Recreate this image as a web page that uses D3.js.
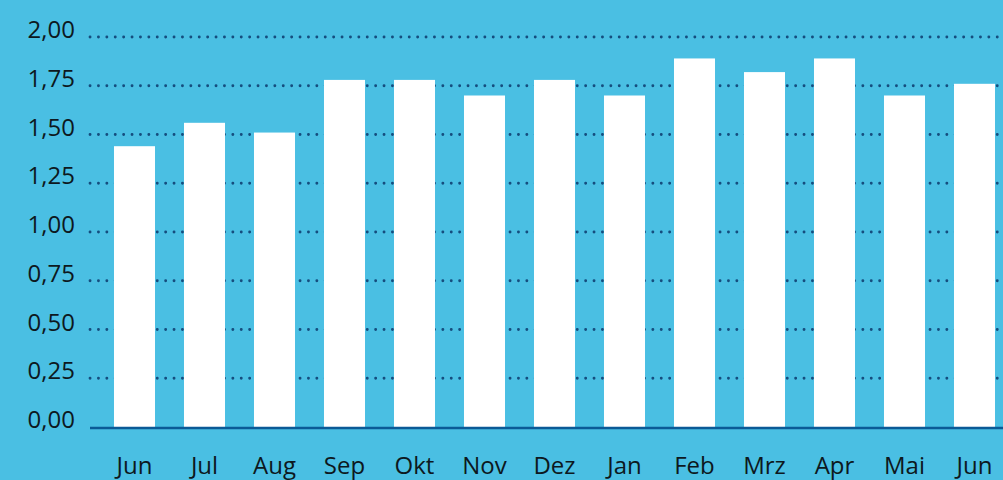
<!DOCTYPE html>
<html>
<head>
<meta charset="utf-8">
<script src="https://cdn.jsdelivr.net/npm/d3@7"></script>
<style>
  html, body { margin: 0; padding: 0; background: #4abfe3; }
  svg { display: block; }
</style>
</head>
<body>
<div id="chart"></div>
<script>
const months = ['Jun', 'Jul', 'Aug', 'Sep', 'Okt', 'Nov', 'Dez', 'Jan', 'Feb', 'Mrz', 'Apr', 'Mai', 'Jun'];
const values = [1.44, 1.56, 1.51, 1.78, 1.78, 1.70, 1.78, 1.70, 1.89, 1.82, 1.89, 1.70, 1.76];
const yTicks = [0, 0.25, 0.5, 0.75, 1, 1.25, 1.5, 1.75, 2];

const width = 1003, height = 480;

const svg = d3.select('#chart').append('svg')
    .attr('width', width)
    .attr('height', height);

svg.append('rect')
    .attr('width', width)
    .attr('height', height)
    .attr('fill', '#4abfe3');

// keys include index since 'Jun' appears twice
const x = d3.scaleBand()
    .domain(months.map((m, i) => i))
    .range([99.5, 1009.5])
    .paddingInner(0.414)
    .paddingOuter(0.207);

const y = d3.scaleLinear()
    .domain([0, 2])
    .range([427, 37]);

const fmt = d => d.toFixed(2).replace('.', ',');

// dotted grid lines
svg.append('g')
    .selectAll('line')
    .data(yTicks.filter(d => d > 0))
    .enter().append('line')
    .attr('x1', 90)
    .attr('x2', width)
    .attr('y1', d => y(d))
    .attr('y2', d => y(d))
    .attr('stroke', '#154d7e')
    .attr('stroke-width', 2.8)
    .attr('stroke-linecap', 'round')
    .attr('stroke-dasharray', '0.1 8.3');

// y tick labels
svg.append('g')
    .selectAll('text')
    .data(yTicks)
    .enter().append('text')
    .attr('x', 75)
    .attr('y', d => y(d) + 1)
    .attr('text-anchor', 'end')
    .attr('font-family', 'Open Sans, sans-serif')
    .attr('font-size', '24px')
    .attr('fill', '#0d1820')
    .text(fmt);

// bars
svg.append('g')
    .selectAll('rect')
    .data(values)
    .enter().append('rect')
    .attr('x', (d, i) => x(i))
    .attr('y', d => y(d))
    .attr('width', x.bandwidth())
    .attr('height', d => y(0) - y(d))
    .attr('fill', '#ffffff');

// baseline
svg.append('line')
    .attr('x1', 90)
    .attr('x2', width)
    .attr('y1', y(0) + 1)
    .attr('y2', y(0) + 1)
    .attr('stroke', '#0b5a96')
    .attr('stroke-width', 2.5);

// month labels
svg.append('g')
    .selectAll('text')
    .data(months)
    .enter().append('text')
    .attr('x', (d, i) => x(i) + x.bandwidth() / 2)
    .attr('y', 474)
    .attr('text-anchor', 'middle')
    .attr('font-family', 'Open Sans, sans-serif')
    .attr('font-size', '24px')
    .attr('fill', '#0d1820')
    .text(d => d);
</script>
</body>
</html>
